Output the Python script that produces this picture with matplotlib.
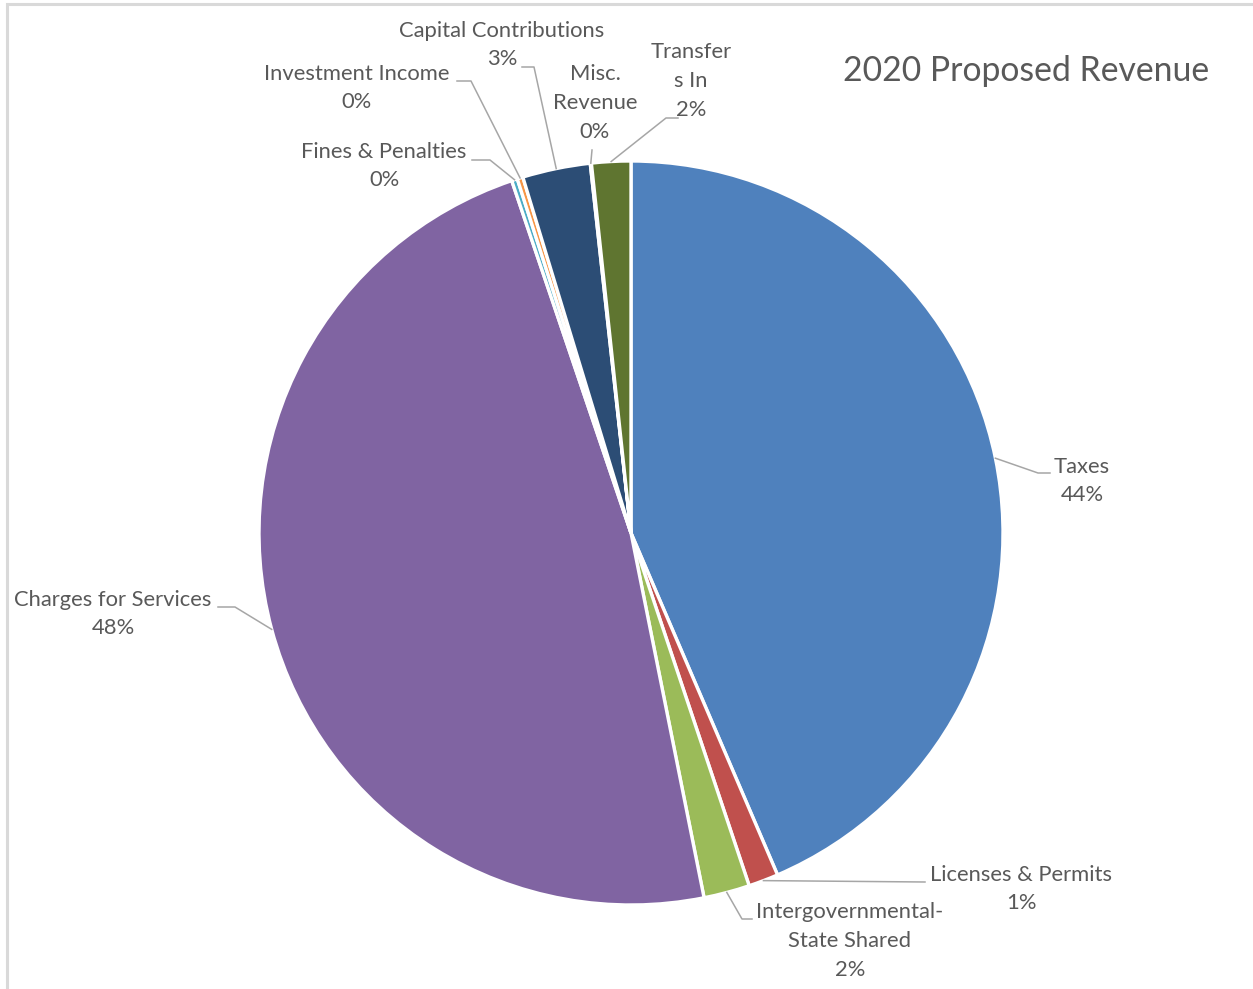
import matplotlib
matplotlib.use("Agg")
import matplotlib.pyplot as plt
import numpy as np

# Revenue shares (percent of total), clockwise from 12 o'clock
categories = [
    "Taxes",
    "Licenses & Permits",
    "Intergovernmental-\nState Shared",
    "Charges for Services",
    "Fines & Penalties",
    "Investment Income",
    "Capital Contributions",
    "Misc.\nRevenue",
    "Transfer\ns In",
]
shares = [43.6, 1.3, 2.0, 48.0, 0.25, 0.25, 2.95, 0.05, 1.7]
colors = ["#4F81BD", "#C0504D", "#9BBB59", "#8064A2", "#4BACC6",
          "#F79646", "#2C4D75", "#772C2A", "#5F7530"]

W, H = 1253, 989
CX, CY, R = 631, 456, 372

# label centre and leader elbow/end points, in pixel space (y up)
label_pos = [
    (1082, 508), (1021, 100), (850, 48), (113, 375), (384, 823),
    (357, 901), (502, 944), (595, 886), (691, 908),
]
leader_pts = [
    [(1038, 516), (1050, 516)],
    [(925, 107)],
    [(742, 70), (752, 70)],
    [(235, 382), (218, 382)],
    [(490, 829), (472, 829)],
    [(471, 908), (457, 908)],
    [(534, 922), (522, 922)],
    [(592, 839)],
    [(666, 871), (678, 871)],
]

TEXT = "#595959"
LINE = "#A6A6A6"
plt.rcParams["font.family"] = ["Lato", "DejaVu Sans"]

fig = plt.figure(figsize=(W / 100, H / 100), dpi=100)
ax = fig.add_axes([0, 0, 1, 1])

wedges, _ = ax.pie(
    shares, colors=colors, startangle=90, counterclock=False,
    center=(CX, CY), radius=R, frame=True,
    wedgeprops={"edgecolor": "white", "linewidth": 2.4},
)
ax.set_xlim(0, W)
ax.set_ylim(0, H)
ax.set_aspect("equal")
ax.axis("off")

for w, name, val, (lx, ly), pts in zip(wedges, categories, shares, label_pos, leader_pts):
    mid = np.deg2rad((w.theta1 + w.theta2) / 2)
    sx, sy = CX + R * np.cos(mid), CY + R * np.sin(mid)
    xs = [sx] + [p[0] for p in pts]
    ys = [sy] + [p[1] for p in pts]
    ax.plot(xs, ys, color=LINE, lw=1.1, zorder=1)
    ax.text(lx, ly, f"{name}\n{val:.0f}%", ha="center", va="center",
            fontsize=15.8, color=TEXT, linespacing=1.56)

ax.text(1026, 918, "2020 Proposed Revenue", ha="center", va="center",
        fontsize=24.3, color=TEXT)

# chart frame (left and top edges visible)
ax.plot([6.5, 6.5, W], [0, H - 4, H - 4], color="#D9D9D9", lw=2.2,
        solid_joinstyle="miter")

fig.savefig("out.png", dpi=100, facecolor="white")
